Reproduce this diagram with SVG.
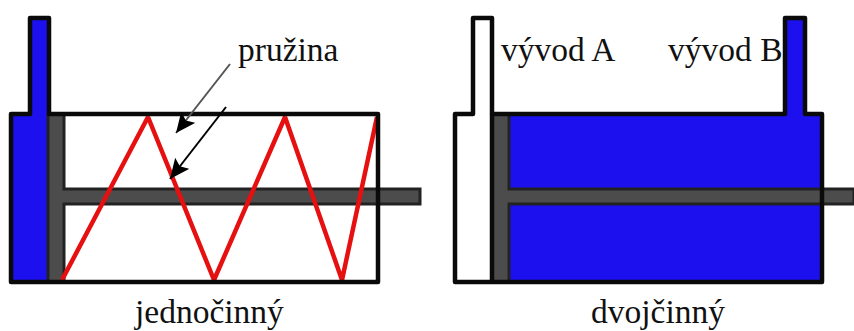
<svg xmlns="http://www.w3.org/2000/svg" width="854" height="331" viewBox="0 0 854 331">
<style>
.o{stroke:#0a0a0a;stroke-width:4.5;stroke-linejoin:round;fill:none}
.g{fill:#4c4c4c;stroke:#222;stroke-width:3}
.b{fill:#1c10ee}
.t{font-family:"Liberation Serif",serif;font-size:33.5px;fill:#111}
</style>
<defs>
<marker id="a" markerUnits="userSpaceOnUse" markerWidth="22" markerHeight="20" refX="20" refY="9" orient="auto"><path d="M0 0L20 9L0 18L4 9Z" fill="#000"/></marker>
</defs>
<rect width="854" height="331" fill="#fff"/>
<g id="jednocinny">
<path class="b" d="M11 114H29V18H49V282H11Z"/>
<path class="g" d="M48 114H64V189H420V204H64V282H48Z"/>
<path d="M62 280L148 117L214 280L285 117L342 280L377 117" fill="none" stroke="#e5100f" stroke-width="4.5" stroke-linejoin="bevel"/>
<path class="o" d="M11 282V114H30V18H49V114H378V282Z"/>
</g>
<g id="dvojcinny">
<rect class="b" x="492" y="114" width="330" height="168"/>
<rect class="b" x="785" y="18" width="20" height="100"/>
<path class="g" d="M492 114H509V189H854V204H509V282H492Z"/>
<path class="o" d="M492 114V18H473V114H455V282H822V114H805V18H785V114Z"/>
<path d="M492 114V282" class="o" stroke-width="3"/>
</g>
<g id="connectors">
<line x1="230" y1="64" x2="176" y2="133" stroke="#555" stroke-width="2" marker-end="url(#a)"/>
<line x1="226" y1="107" x2="170" y2="179" stroke="#000" stroke-width="2" marker-end="url(#a)"/>
</g>
<g id="labels">
<text class="t" x="238" y="61">pružina</text>
<text class="t" x="501" y="61">vývod A</text>
<text class="t" x="668" y="61">vývod B</text>
<text class="t" x="135" y="323">jednočinný</text>
<text class="t" x="591" y="323">dvojčinný</text>
</g>
</svg>
